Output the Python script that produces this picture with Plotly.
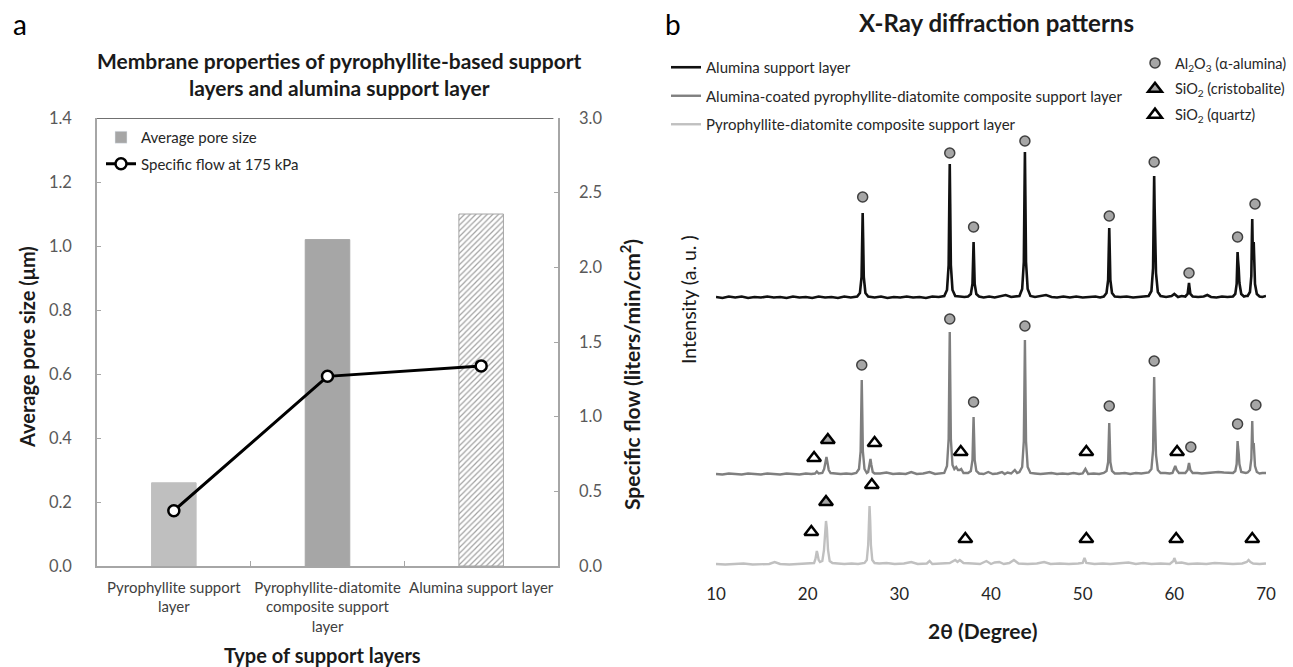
import plotly.graph_objects as go

# ---------------- Panel a data ----------------
categories = ["Pyrophyllite support<br>layer",
              "Pyrophyllite-diatomite<br>composite support<br>layer",
              "Alumina support layer"]
pore_size_um = [0.26, 1.02, 1.10]
specific_flow = [0.37, 1.27, 1.34]
bar_colors = ["#bfbfbf", "#a6a6a6", "white"]
bar_patterns = ["", "", "/"]

# ---------------- Panel b data (2theta, intensity above own baseline, a.u.) ----------------
alumina_2theta = [10.0, 10.7, 11.4, 12.1, 12.8, 13.5, 14.2, 14.9, 15.6, 16.3, 17.0, 17.7, 18.4, 19.1, 19.8,
                  20.5, 21.2, 21.9, 22.6, 23.3, 24.0, 24.7,
                  25.4, 25.7, 25.88, 25.95, 26.0, 26.05, 26.12, 26.3, 26.6,
                  27.3, 28.0, 28.7, 29.4, 30.1, 30.8, 31.5, 32.2, 32.9, 33.6, 34.3,
                  34.9, 35.2, 35.38, 35.45, 35.5, 35.55, 35.62, 35.8, 36.1,
                  36.6, 37.1,
                  37.5, 37.8, 37.98, 38.05, 38.1, 38.15, 38.22, 38.4, 38.7,
                  39.2, 39.8, 40.4, 41.0, 41.6, 42.2, 42.7,
                  43.1, 43.4, 43.58, 43.65, 43.7, 43.75, 43.82, 44.0, 44.3,
                  44.8, 45.4, 46.0, 46.6, 47.2, 47.9, 48.6, 49.3, 50.0, 50.7, 51.4, 51.9,
                  52.3, 52.6, 52.78, 52.85, 52.9, 52.95, 53.02, 53.2, 53.5,
                  54.1, 54.8, 55.5, 56.2, 56.8,
                  57.2, 57.5, 57.68, 57.75, 57.8, 57.85, 57.92, 58.0, 58.2, 58.5,
                  59.1, 59.7, 60.0, 60.4, 60.8,
                  61.2, 61.45, 61.55, 61.6, 61.65, 61.75, 62.0,
                  62.6, 63.2, 63.6, 64.0, 64.6, 65.2, 65.8,
                  66.4, 66.65, 66.8, 66.86, 66.9, 66.95, 67.02, 67.1, 67.3, 67.6,
                  67.8,
                  68.0, 68.25, 68.4, 68.46, 68.5, 68.55, 68.6, 68.66, 68.72, 68.8, 69.0, 69.3,
                  69.6, 70.0]
alumina_int = [1, 0, 1.5, 0.5, 1.5, 0, 1, 0.5, 1.5, 0.5, 1, 0, 1.5, 0.5, 1,
               0, 1.5, 0.5, 1, 0, 1.5, 0.5,
               1.5, 5, 21, 60, 85, 60, 21, 5, 1.5,
               0.5, 1.5, 0, 1, 0.5, 1.5, 0.5, 1, 0, 1.5, 1,
               2, 8, 33, 94, 134, 94, 33, 8, 2,
               1.5, 1,
               1.5, 4, 14, 39, 56, 39, 14, 4, 1.5,
               0.5, 1.5, 0.5, 2, 3, 1, 1.5,
               2, 9, 36, 102, 146, 102, 36, 9, 2,
               1, 2, 3, 1, 0.5, 1.5, 0.5, 1.5, 0.5, 1, 1.5, 0.5,
               1.5, 5, 18, 49, 70, 49, 18, 5, 1.5,
               1, 1.5, 0.5, 1, 1.5,
               2, 7, 30, 85, 122, 90, 55, 25, 6, 2,
               1, 2, 4, 1, 2,
               1.5, 4, 11, 15, 11, 4, 1.5,
               1, 1.5, 3, 1, 0.5, 1.5, 1,
               1.5, 4, 14, 34, 46, 38, 30, 15, 4, 1.5,
               2,
               2, 6, 22, 60, 79, 50, 38, 56, 40, 14, 4, 1.5,
               1, 2]

coated_2theta = [10.0, 10.7, 11.4, 12.1, 12.8, 13.5, 14.2, 14.9, 15.6, 16.3, 17.0, 17.7, 18.4, 19.1, 19.8, 20.4,
                 20.8, 21.0, 21.2, 21.4,
                 21.6, 21.8, 21.95, 22.05, 22.15, 22.3, 22.5,
                 23.0, 23.6, 24.2, 24.8,
                 25.3, 25.6, 25.78, 25.85, 25.9, 25.95, 26.02, 26.2, 26.45,
                 26.6, 26.75, 26.85, 26.95, 27.1, 27.3,
                 27.9, 28.6, 29.3, 30.0, 30.7, 31.3, 31.9, 32.6, 33.3, 33.9, 34.4,
                 34.9, 35.2, 35.38, 35.45, 35.5, 35.55, 35.62, 35.8, 36.0, 36.2, 36.4, 36.6, 36.75, 37.0,
                 37.3,
                 37.5, 37.8, 37.98, 38.05, 38.1, 38.15, 38.22, 38.4, 38.7,
                 39.2, 39.7, 40.2, 40.7, 41.2, 41.5, 41.8, 42.2, 42.6, 42.85,
                 43.1, 43.4, 43.58, 43.65, 43.7, 43.75, 43.82, 44.0, 44.3,
                 44.8, 45.4, 46.0, 46.6, 47.2, 47.8, 48.4, 49.0, 49.6, 50.0, 50.3, 50.6, 51.2, 51.8,
                 52.3, 52.6, 52.78, 52.85, 52.9, 52.95, 53.02, 53.2, 53.5,
                 54.0, 54.6, 55.2, 55.8, 56.4, 56.9,
                 57.2, 57.5, 57.68, 57.75, 57.8, 57.85, 57.92, 58.0, 58.2, 58.5,
                 59.0, 59.5,
                 59.8, 59.95, 60.1, 60.25, 60.5,
                 60.9,
                 61.2, 61.45, 61.6, 61.75, 62.0,
                 62.5, 63.0, 63.6, 64.2, 64.8, 65.4, 65.9,
                 66.4, 66.65, 66.8, 66.86, 66.9, 66.95, 67.02, 67.1, 67.3, 67.6,
                 67.8,
                 68.0, 68.25, 68.4, 68.46, 68.5, 68.55, 68.6, 68.66, 68.72, 68.8, 69.0, 69.3,
                 69.6, 70.0]
coated_int = [1, 0.5, 1.5, 1, 0.5, 1.5, 1, 0.5, 1.5, 1, 0.5, 1.5, 1, 0.5, 1.5, 1,
              1.5, 3.5, 1.5, 1.5,
              2, 6, 14, 18, 13, 5, 2,
              1.5, 1, 1.5, 1,
              2, 6, 24, 67, 95, 67, 24, 6, 2,
              3, 10, 16, 10, 3, 1.5,
              1.5, 2.5, 1, 1.5, 1, 3, 1, 1.5, 3, 1, 1.5,
              2, 9, 36, 100, 143, 100, 36, 10, 6, 8, 5, 5, 6, 2,
              2,
              2, 4, 15, 41, 58, 41, 15, 4, 1.5,
              1, 3, 1, 1.5, 3, 1, 2.5, 1.5, 5, 2,
              3, 8, 34, 95, 135, 95, 34, 8, 2,
              1.5, 1, 1.5, 2, 1, 1.5, 1, 2, 1, 1.5, 6, 1, 1.5, 1,
              2, 4, 13, 36, 52, 36, 13, 4, 1.5,
              1.5, 2, 1, 2, 1.5, 2.5,
              2.5, 6, 25, 69, 98, 72, 45, 20, 5, 2,
              2, 1.5,
              2, 6, 9, 5, 2,
              2,
              2, 5, 12, 5, 2,
              2, 1.5, 2, 2.5, 3, 2.5, 2,
              2, 4, 11, 25, 34, 28, 22, 11, 3, 2,
              2,
              2.5, 5, 16, 40, 54, 35, 28, 32, 25, 9, 3, 1.5,
              2, 2]

pd_2theta = [10.0, 11.0, 12.0, 13.0, 14.0, 15.0, 15.8, 16.4, 17.0, 18.0, 19.0, 20.0,
             20.7, 20.85, 20.95, 21.0, 21.08, 21.2, 21.35,
             21.6, 21.78, 21.9, 22.0, 22.1, 22.22, 22.4, 22.7,
             23.3, 24.0, 24.8, 25.5,
             26.2, 26.45, 26.6, 26.68, 26.75, 26.82, 26.9, 27.05, 27.3,
             27.8, 28.6, 29.5, 30.5, 31.3, 32.0, 33.0, 33.3, 33.6, 34.5, 35.5, 36.1, 36.35, 36.6, 37.0,
             38.0, 38.8, 39.5, 40.0, 40.4, 40.9, 41.4, 42.0, 42.5, 43.0, 44.0, 45.0, 45.8, 46.5, 47.5,
             48.5, 49.5, 50.0, 50.2, 50.4, 51.3, 52.2, 53.0, 54.0, 55.0, 55.8, 56.6, 57.5, 58.5, 59.5,
             59.9, 60.0, 60.2, 60.8, 61.5, 62.5, 63.5, 64.4, 65.4, 66.4, 67.4, 67.9, 68.1, 68.3, 68.6,
             69.3, 70.0]
pd_int = [1, 0.5, 1, 1.5, 0.5, 1, 1, 3, 1, 0.5, 1, 1.5,
          2, 6, 12, 14, 11, 5, 3,
          4, 15, 36, 44, 36, 15, 4, 2,
          1.5, 1, 1.5, 1,
          2, 5, 20, 45, 59, 45, 20, 5, 2,
          1.5, 2, 1, 1.5, 3, 1, 1.5, 4, 1, 1.5, 2, 5, 3, 5, 2,
          1.5, 1, 4, 1, 2.5, 3, 1, 2, 5, 1.5, 1, 1.5, 3, 1, 1.5,
          1, 1.5, 2, 7, 2, 1, 1.5, 1, 1.5, 2.5, 1, 2, 1, 1.5, 1,
          4, 7, 2, 2.5, 1, 1.5, 1, 2, 1.5, 1, 1.5, 3, 5, 3, 1.5,
          1, 1.5]

# vertical stacking offsets of the three patterns (a.u.)
offset_alumina = 280
offset_coated = 103
offset_pd = 13

# phase labels: (2theta, label height above pattern baseline)
alumina_circle_2theta = [26.0, 35.5, 38.1, 43.7, 52.9, 57.8, 61.6, 66.9, 68.8]
alumina_circle_h = [101, 145, 71, 157, 82, 136, 25, 61, 94]
coated_circle_2theta = [25.9, 35.5, 38.1, 43.7, 52.9, 57.8, 61.8, 66.9, 68.9]
coated_circle_h = [110, 156, 73, 149, 69, 114, 28, 51, 70]
coated_cristo_2theta = [22.2]
coated_cristo_h = [35]
coated_quartz_2theta = [20.7, 27.3, 36.7, 50.4, 60.3]
coated_quartz_h = [17, 32, 23, 23, 23]
pd_cristo_2theta = [22.0]
pd_cristo_h = [63]
pd_quartz_2theta = [20.4, 27.0, 37.2, 50.4, 60.2, 68.5]
pd_quartz_h = [33, 80, 26, 26, 26, 26]

FONT = "Lato, 'Open Sans', sans-serif"
W, H = 1293, 667


def px(x):
    return x / W


def py(y):
    return 1 - y / H


fig = go.Figure()

# ----- Panel a -----
fig.add_trace(go.Bar(
    x=categories, y=pore_size_um, width=0.29, showlegend=False,
    marker=dict(color=bar_colors,
                line=dict(color=["#bfbfbf", "#a6a6a6", "#a6a6a6"], width=1),
                pattern=dict(shape=bar_patterns, fgcolor="#8c8c8c", size=4, solidity=0.3)),
    xaxis="x", yaxis="y"))
fig.add_trace(go.Bar(
    x=[None], y=[None], name="Average pore size", marker=dict(color="#a6a6a6"),
    xaxis="x", yaxis="y", legend="legend", legendgroup="a1"))
fig.add_trace(go.Scatter(
    x=categories, y=specific_flow, mode="lines+markers", name="Specific flow at 175 kPa",
    line=dict(color="black", width=3),
    marker=dict(size=11, color="white", line=dict(color="black", width=2.5)),
    xaxis="x", yaxis="y2", legend="legend", legendgroup="a2"))

# ----- Panel b -----
fig.add_trace(go.Scatter(
    x=alumina_2theta, y=[v + offset_alumina for v in alumina_int], mode="lines",
    name="Alumina support layer", line=dict(color="#111111", width=2.6),
    xaxis="x3", yaxis="y3", legend="legend2", legendgroup="b1"))
fig.add_trace(go.Scatter(
    x=coated_2theta, y=[v + offset_coated for v in coated_int], mode="lines",
    name="Alumina-coated pyrophyllite-diatomite composite support layer",
    line=dict(color="#7f7f7f", width=2.4),
    xaxis="x3", yaxis="y3", legend="legend2", legendgroup="b2"))
fig.add_trace(go.Scatter(
    x=pd_2theta, y=[v + offset_pd for v in pd_int], mode="lines",
    name="Pyrophyllite-diatomite composite support layer",
    line=dict(color="#c0c0c0", width=2.4),
    xaxis="x3", yaxis="y3", legend="legend2", legendgroup="b3"))

fig.add_trace(go.Scatter(
    x=alumina_circle_2theta + coated_circle_2theta,
    y=[v + offset_alumina for v in alumina_circle_h] + [v + offset_coated for v in coated_circle_h],
    mode="markers", name="Al<sub>2</sub>O<sub>3</sub> (α-alumina)",
    marker=dict(symbol="circle", size=10, color="#a6a6a6", line=dict(color="#404040", width=1.5)),
    xaxis="x3", yaxis="y3", legend="legend3", legendgroup="c1"))
fig.add_trace(go.Scatter(
    x=coated_cristo_2theta + pd_cristo_2theta,
    y=[v + offset_coated for v in coated_cristo_h] + [v + offset_pd for v in pd_cristo_h],
    mode="markers", name="SiO<sub>2</sub> (cristobalite)",
    marker=dict(symbol="triangle-up", size=12, color="#a6a6a6", line=dict(color="black", width=2.5)),
    xaxis="x3", yaxis="y3", legend="legend3", legendgroup="c2"))
fig.add_trace(go.Scatter(
    x=coated_quartz_2theta + pd_quartz_2theta,
    y=[v + offset_coated for v in coated_quartz_h] + [v + offset_pd for v in pd_quartz_h],
    mode="markers", name="SiO<sub>2</sub> (quartz)",
    marker=dict(symbol="triangle-up", size=12, color="white", line=dict(color="black", width=2.5)),
    xaxis="x3", yaxis="y3", legend="legend3", legendgroup="c3"))

axis_gray = "#a6a6a6"
fig.update_layout(
    width=W, height=H, margin=dict(l=0, r=0, t=0, b=0, autoexpand=False),
    paper_bgcolor="white", plot_bgcolor="white",
    font=dict(family=FONT, color="#262626"),
    barmode="overlay",
    xaxis=dict(domain=[px(97), px(558)], type="category", range=[-0.5, 2.5], anchor="y",
               showline=True, linecolor=axis_gray, linewidth=1.5, ticks="inside", tickson="boundaries",
               ticklen=5, tickcolor=axis_gray, showgrid=False, ticklabelstandoff=7, tickangle=0,
               automargin=False, tickfont=dict(size=15, color="#404040")),
    yaxis=dict(domain=[py(566), py(118)], range=[0, 1.4], dtick=0.2, tickformat=".1f", anchor="x",
               showline=True, linecolor=axis_gray, linewidth=1.5, ticks="inside", ticklen=4,
               tickcolor=axis_gray, showgrid=False, zeroline=False, ticklabelstandoff=20,
               automargin=False, tickfont=dict(size=16.5, color="#595959")),
    yaxis2=dict(overlaying="y", side="right", anchor="x", range=[0, 3.0], dtick=0.5, tickformat=".1f",
                showline=True, linecolor=axis_gray, linewidth=1.5, ticks="inside", ticklen=4,
                tickcolor=axis_gray, showgrid=False, zeroline=False, ticklabelstandoff=16,
                automargin=False, tickfont=dict(size=16.5, color="#595959")),
    xaxis3=dict(domain=[px(716), px(1266)], range=[10, 70], dtick=10, anchor="y3",
                showline=False, ticks="", showgrid=False, zeroline=False, ticklabelstandoff=4,
                automargin=False, tickfont=dict(size=17, color="#262626")),
    yaxis3=dict(domain=[py(578), py(128)], range=[0, 450], anchor="x3", visible=False),
    legend=dict(x=px(101), y=py(121), xanchor="left", yanchor="top", bgcolor="rgba(0,0,0,0)",
                font=dict(size=15, color="#262626"), tracegroupgap=4),
    legend2=dict(x=px(666), y=py(51), xanchor="left", yanchor="top", bgcolor="rgba(0,0,0,0)",
                 font=dict(size=15, color="#262626"), tracegroupgap=6),
    legend3=dict(x=px(1135), y=py(47), xanchor="left", yanchor="top", bgcolor="rgba(0,0,0,0)",
                 font=dict(size=14.5, color="#262626"), tracegroupgap=4),
    shapes=[dict(type="line", xref="x domain", yref="y", x0=0, x1=0.99, y0=1.4, y1=1.4,
                 line=dict(color="#404040", width=1.5))],
)

ann = [
    dict(text="a", x=px(20), y=py(24), font=dict(size=28, color="black")),
    dict(text="b", x=px(673), y=py(24), font=dict(size=28, color="black")),
    dict(text="<b>Membrane properties of pyrophyllite-based support<br>layers and alumina support layer</b>",
         x=px(339), y=py(74), font=dict(size=21, color="#1a1a1a")),
    dict(text="<b>X-Ray diffraction patterns</b>", x=px(996), y=py(23), font=dict(size=24, color="#1a1a1a")),
    dict(text="<b>Average pore size (μm)</b>", x=px(27), y=py(347), textangle=-90,
         font=dict(size=20, color="#1a1a1a")),
    dict(text="<b>Specific flow (liters/min/cm<sup>2</sup>)</b>", x=px(630), y=py(375), textangle=-90,
         font=dict(size=21, color="#1a1a1a")),
    dict(text="<b>Type of support layers</b>", x=px(322), y=py(655), font=dict(size=20, color="#1a1a1a")),
    dict(text="Intensity (a. u. )", x=px(688), y=py(300), textangle=-90,
         font=dict(size=19.5, color="#1a1a1a")),
    dict(text="<b>2θ (Degree)</b>", x=px(983), y=py(630), font=dict(size=21, color="#1a1a1a")),
]
for a in ann:
    a.update(xref="paper", yref="paper", showarrow=False, xanchor="center", yanchor="middle")
fig.update_layout(annotations=ann)

fig.write_html("out.html", config={"displayModeBar": False},
               post_script="document.body.style.margin='0px';")
